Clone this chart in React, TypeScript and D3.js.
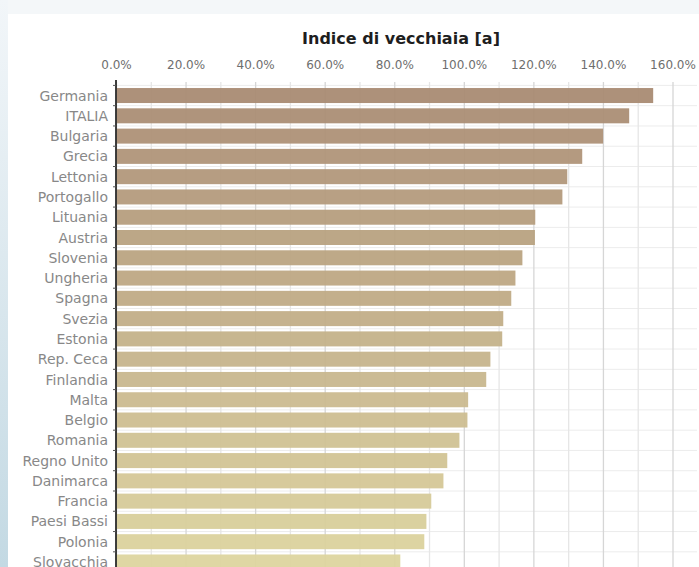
import React from "react";
import * as d3 from "d3";

const title = "Indice di vecchiaia [a]";
const countries = [
  "Germania", "ITALIA", "Bulgaria", "Grecia", "Lettonia", "Portogallo",
  "Lituania", "Austria", "Slovenia", "Ungheria", "Spagna", "Svezia",
  "Estonia", "Rep. Ceca", "Finlandia", "Malta", "Belgio", "Romania",
  "Regno Unito", "Danimarca", "Francia", "Paesi Bassi", "Polonia", "Slovacchia",
];
const values = [
  154.3, 147.4, 139.9, 133.9, 129.6, 128.2,
  120.4, 120.3, 116.7, 114.7, 113.5, 111.2,
  110.9, 107.5, 106.3, 101.1, 100.9, 98.6,
  95.1, 94.0, 90.5, 89.1, 88.5, 81.6,
];
const tickValues = [0, 20, 40, 60, 80, 100, 120, 140, 160];
const gridValues = d3.range(0, 161, 10);

const W = 699;
const H = 567;

export default function App() {
  const x = d3.scaleLinear().domain([0, 160]).range([116.5, 673]);
  const step = 20.28;
  const y0 = 85.4;
  const y = d3
    .scaleBand<string>()
    .domain(countries)
    .range([y0, y0 + countries.length * step])
    .paddingInner(0.26)
    .paddingOuter(0.13);
  const color = d3.interpolateRgb("#a88a72", "#ddd49e");
  const n = countries.length;
  const rowLines = d3.range(0, n + 1).map((i) => y0 + i * y.step());

  return (
    <svg
      width={W}
      height={H}
      style={{ position: "absolute", left: 0, top: 0, display: "block" }}
      fontFamily="'DejaVu Sans', Verdana, sans-serif"
    >
      <defs>
        <linearGradient id="leftbg" x1="0" y1="0" x2="0" y2="1">
          <stop offset="0" stopColor="#f2f6f9" />
          <stop offset="1" stopColor="#c3d9e3" />
        </linearGradient>
      </defs>
      <rect x={0} y={0} width={W} height={H} fill="#ffffff" />
      <rect x={0} y={0} width={W} height={14} fill="#f4f7f9" />
      <rect x={0} y={0} width={8} height={H} fill="url(#leftbg)" />

      {rowLines.map((yy, i) => (
        <line key={"h" + i} x1={116} x2={697} y1={yy} y2={yy} stroke="#ececec" strokeWidth={1} />
      ))}
      {gridValues.map((v) => (
        <line
          key={"g" + v}
          x1={x(v)}
          x2={x(v)}
          y1={82}
          y2={H}
          stroke={v % 20 === 0 ? "#d6d6d6" : "#e6e6e6"}
          strokeWidth={1.3}
        />
      ))}

      {countries.map((c, i) => (
        <rect
          key={c}
          x={x(0)}
          y={y(c)}
          width={x(values[i]) - x(0)}
          height={y.bandwidth()}
          fill={color(i / (n - 1))}
          fillOpacity={0.94}
        />
      ))}

      <line x1={116} x2={116} y1={80} y2={H} stroke="#2a2a2a" strokeWidth={1.8} />
      {rowLines.map((yy, i) => (
        <line key={"t" + i} x1={113} x2={116} y1={yy} y2={yy} stroke="#555" strokeWidth={1} />
      ))}

      {countries.map((c) => (
        <text
          key={"l" + c}
          x={108}
          y={(y(c) as number) + y.bandwidth() / 2}
          dy="0.36em"
          textAnchor="end"
          fontSize={14}
          fill="#888888"
        >
          {c}
        </text>
      ))}

      {tickValues.map((v) => (
        <text key={"x" + v} x={x(v)} y={69} textAnchor="middle" fontSize={12} fill="#6e6e6e">
          {d3.format(".1f")(v) + "%"}
        </text>
      ))}

      <text x={401} y={44} textAnchor="middle" fontSize={16} fontWeight="bold" fill="#1e1e1e">
        {title}
      </text>
    </svg>
  );
}
